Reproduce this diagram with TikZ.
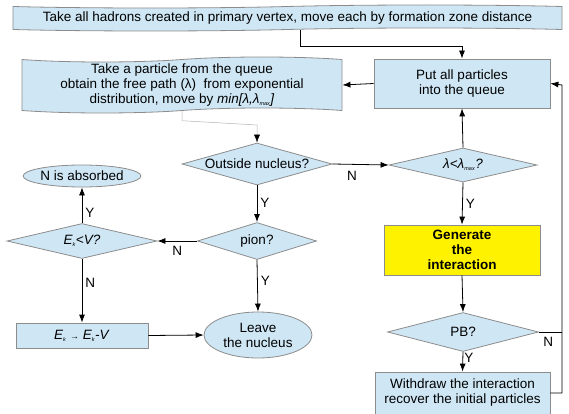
\documentclass[tikz,border=0pt]{standalone}
\usepackage{fontspec}
\setmainfont{Liberation Sans}
\usetikzlibrary{arrows.meta,shapes.geometric,shapes.symbols}
\definecolor{boxblue}{RGB}{207,231,245}
\definecolor{boxline}{RGB}{140,140,140}
\newcommand{\sub}[1]{\textsubscript{\fontsize{5.5}{6}\selectfont\itshape #1}}

\begin{document}
\begin{tikzpicture}
[x=1pt,y=-1pt,->,>={Latex[length=8pt,width=6pt]},line width=0.8pt,
every node/.style={font=\fontsize{13.5}{15}\selectfont},
proc/.style={rectangle,draw=boxline,fill=boxblue,inner sep=0pt,align=center},
tapebox/.style={tape,draw=boxline,fill=boxblue,inner sep=0pt,align=center,tape bend height=5pt},
ask/.style={diamond,draw=boxline,fill=boxblue,inner sep=0pt,aspect=3.5},
term/.style={ellipse,draw=boxline,fill=boxblue,inner sep=0pt,align=center},
lbl/.style={inner sep=3pt}]
\useasboundingbox (0,0) rectangle (569,414);

\node[tapebox,tape bend height=3pt,minimum width=549pt,minimum height=26pt] at (287.5,18) (start)
  {Take all hadrons created in primary vertex, move each by formation zone distance};
\node[proc,minimum width=176pt,minimum height=49pt] at (462,83.5) (queue)
  {Put all particles\\into the queue};
\node[tapebox,minimum width=320pt,minimum height=56pt] at (182,85) (take)
  {Take a particle from the queue\\obtain the free path (λ)\ \ from exponential\\distribution, move by \textit{min[λ,λ\sub{max}]}};
\node[ask,minimum width=150pt,minimum height=42pt] at (257,164) (outside) {Outside nucleus?};
\node[ask,minimum width=148pt,minimum height=34pt] at (463,165) (lam) {\textit{λ<λ\sub{max}?}};
\node[proc,fill=yellow,minimum width=156pt,minimum height=50pt,font=\fontsize{13.5}{15}\selectfont\bfseries] at (462,250) (gen)
  {Generate\\the\\interaction};
\node[ask,minimum width=151pt,minimum height=39pt] at (463,332) (pb) {PB?};
\node[proc,minimum width=175pt,minimum height=42pt] at (462.5,393) (withdraw)
  {Withdraw the interaction\\recover the initial particles};
\node[ask,minimum width=119pt,minimum height=37pt] at (257,241) (pion) {pion?};
\node[term,minimum width=109pt,minimum height=22pt] at (82,176) (absorbed) {N is absorbed};
\node[ask,minimum width=150pt,minimum height=35pt] at (82,241) (ekv) {\textit{E\sub{k}<V?}};
\node[proc,minimum width=132pt,minimum height=25pt] at (82,335.5) (ekbox)
  {\textit{E\sub{k}} {\fontsize{9}{9}\selectfont →} \textit{E\sub{k}-V}};
\node[term,minimum width=108pt,minimum height=46pt] at (258,335) (leave) {Leave\\the nucleus};

\coordinate (drop) at (300,46);
\coordinate (back) at (562,85);

% main chain
\draw ([xshift=12.5pt]start.south) |- (drop) -| (queue.north);
\draw (queue.west) -- (take.east);
\draw[gray!60,line width=0.5pt,-{Latex[length=8pt,width=6pt,color=black]}] (take.south) -- ++(0,10) -- (257,125) -- (outside.north);
\draw (outside.east) -- node[lbl,below,pos=0.35,yshift=-3pt] {N} (lam.west);
\draw (lam.north) -- (queue.south);
\draw (lam.south) -- node[lbl,right] {Y} (gen.north);
\draw (gen.south) -- (pb.north);
\draw (pb.south) -- node[lbl,right,pos=0.3,inner sep=1pt] {Y} (withdraw.north);
\draw[-] (pb.east) -- node[lbl,below,pos=0.4,yshift=-2pt] {N} (pb.east -| back);
\draw (withdraw.east) -| (back) -- (queue.east);

% nucleus branch
\draw (outside.south) -- node[lbl,right,pos=0.47] {Y} (pion.north);
\draw (pion.west) -- node[lbl,below,yshift=-2pt] {N} (ekv.east);
\draw (ekv.north) -- node[lbl,right,pos=0.3] {Y} (absorbed.south);
\draw (ekv.south) -- node[lbl,right,pos=0.38] {N} (ekbox.north);
\draw (ekbox.east) -- (leave.west);
\draw (pion.south) -- node[lbl,right,pos=0.4] {Y} (leave.north);
\end{tikzpicture}
\end{document}
